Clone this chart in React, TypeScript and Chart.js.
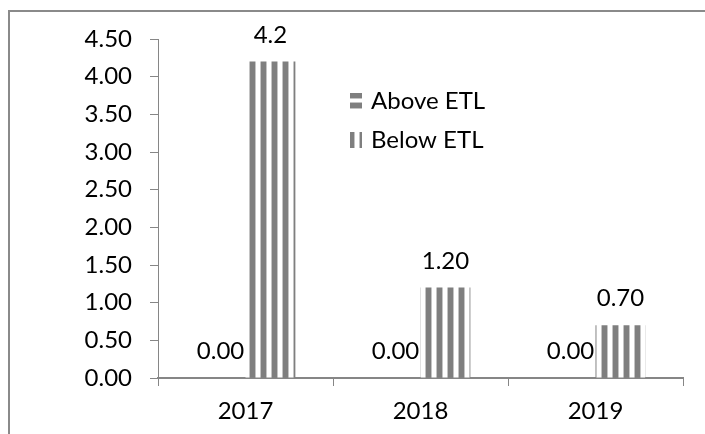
import React, { useEffect, useRef } from "react";
import { Chart, registerables } from "chart.js";

Chart.register(...registerables);

const categories = ["2017", "2018", "2019"];
const seriesNames = ["Above ETL", "Below ETL"];
const aboveValues = [0, 0, 0];
const belowValues = [4.2, 1.2, 0.7];
const aboveLabels = ["0.00", "0.00", "0.00"];
const belowLabels = ["4.2", "1.20", "0.70"];
const yMin = 0;
const yMax = 4.5;
const yStep = 0.5;

const FONT = "Lato, 'Open Sans', sans-serif";
const FONT_SIZE = 24;
const AXIS_COLOR = "#868686";

function makeVertical(ctx: CanvasRenderingContext2D) {
  const c = document.createElement("canvas");
  c.width = 11;
  c.height = 4;
  const g = c.getContext("2d")!;
  g.fillStyle = "#ffffff";
  g.fillRect(0, 0, 11, 4);
  g.fillStyle = "#c4c4c4";
  g.fillRect(2, 0, 1, 4);
  g.fillRect(7, 0, 1, 4);
  g.fillStyle = "#7f7f7f";
  g.fillRect(8, 0, 3, 4);
  g.fillRect(0, 0, 2, 4);
  return ctx.createPattern(c, "repeat")!;
}

function makeHorizontal(ctx: CanvasRenderingContext2D) {
  const c = document.createElement("canvas");
  c.width = 4;
  c.height = 10;
  const g = c.getContext("2d")!;
  g.fillStyle = "#ffffff";
  g.fillRect(0, 0, 4, 10);
  g.fillStyle = "#c4c4c4";
  g.fillRect(0, 2, 4, 1);
  g.fillRect(0, 8, 4, 1);
  g.fillStyle = "#7f7f7f";
  g.fillRect(0, 3, 4, 5);
  return ctx.createPattern(c, "repeat")!;
}

const valueLabelsPlugin = {
  id: "valueLabels",
  afterDatasetsDraw(chart: any) {
    const ctx = chart.ctx;
    const labelSets = [aboveLabels, belowLabels];
    ctx.save();
    ctx.font = `${FONT_SIZE}px ${FONT}`;
    ctx.fillStyle = "#000";
    ctx.textAlign = "center";
    ctx.textBaseline = "alphabetic";
    chart.data.datasets.forEach((ds: any, di: number) => {
      const meta = chart.getDatasetMeta(di);
      meta.data.forEach((el: any, i: number) => {
        ctx.fillText(labelSets[di][i], el.x, el.y - 19);
      });
    });
    ctx.restore();
  },
};

const frameAndLegendPlugin = {
  id: "frameAndLegend",
  beforeDraw(chart: any) {
    const ctx = chart.ctx;
    ctx.save();
    ctx.strokeStyle = "#8a8a8a";
    ctx.lineWidth = 2;
    ctx.beginPath();
    ctx.moveTo(9, chart.height);
    ctx.lineTo(9, 11);
    ctx.lineTo(chart.width, 11);
    ctx.stroke();
    ctx.restore();
  },
  afterDraw(chart: any) {
    const ctx = chart.ctx;
    ctx.save();
    ctx.font = `${FONT_SIZE}px ${FONT}`;
    ctx.textAlign = "left";
    ctx.textBaseline = "alphabetic";
    const rows = [{ y: 93 }, { y: 132 }];
    chart.data.datasets.forEach((ds: any, di: number) => {
      const r = rows[di];
      ctx.fillStyle = ds.backgroundColor;
      ctx.fillRect(350, r.y, 12, 16);
      ctx.fillStyle = "#000";
      ctx.fillText(ds.label, 371, r.y + 16);
    });
    ctx.restore();
  },
};

export default function App() {
  const ref = useRef<HTMLCanvasElement>(null);

  useEffect(() => {
    const canvas = ref.current!;
    const ctx = canvas.getContext("2d")!;
    const vert = makeVertical(ctx);
    const horiz = makeHorizontal(ctx);
    const chart = new Chart(canvas, {
      type: "bar",
      data: {
        labels: categories,
        datasets: [
          {
            label: seriesNames[0],
            data: aboveValues,
            backgroundColor: horiz as any,
            borderWidth: 0,
            categoryPercentage: 0.57,
            barPercentage: 1,
          },
          {
            label: seriesNames[1],
            data: belowValues,
            backgroundColor: vert as any,
            borderWidth: 0,
            categoryPercentage: 0.57,
            barPercentage: 1,
          },
        ],
      },
      options: {
        animation: false,
        responsive: false,
        maintainAspectRatio: false,
        layout: { padding: { top: 39, right: 22, left: 0, bottom: 0 } },
        plugins: {
          legend: { display: false },
          tooltip: { enabled: false },
        },
        scales: {
          x: {
            type: "category",
            offset: true,
            grid: {
              display: true,
              offset: true,
              drawOnChartArea: false,
              tickLength: 8,
              color: AXIS_COLOR,
              lineWidth: 1,
            },
            border: { display: true, color: AXIS_COLOR, width: 2 },
            ticks: {
              color: "#000",
              font: { family: FONT, size: FONT_SIZE },
              padding: 11,
              maxRotation: 0,
            },
            afterFit(scale: any) {
              scale.height = 56;
            },
          },
          y: {
            min: yMin,
            max: yMax,
            grid: {
              display: true,
              drawOnChartArea: false,
              tickLength: 8,
              color: AXIS_COLOR,
              lineWidth: 1,
            },
            border: { display: true, color: AXIS_COLOR, width: 1 },
            ticks: {
              stepSize: yStep,
              color: "#000",
              font: { family: FONT, size: FONT_SIZE },
              padding: 18,
              callback: (v: any) => Number(v).toFixed(2),
            },
            afterFit(scale: any) {
              scale.width = 158;
            },
          },
        },
      },
      plugins: [valueLabelsPlugin, frameAndLegendPlugin],
    });
    return () => chart.destroy();
  }, []);

  return (
    <div style={{ position: "fixed", left: 0, top: 0, width: 705, height: 434, background: "#fff" }}>
      <canvas ref={ref} width={705} height={434} style={{ display: "block", width: 705, height: 434 }} />
    </div>
  );
}
